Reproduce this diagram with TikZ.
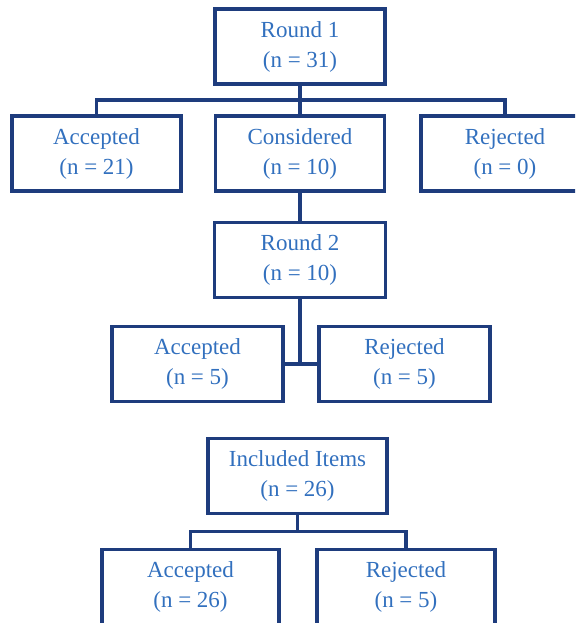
\documentclass[tikz,border=0pt]{standalone}
\usepackage{fontspec}
\setmainfont{Liberation Serif}
\definecolor{bordure}{RGB}{30,60,125}
\definecolor{texte}{RGB}{50,112,190}
\begin{document}
\begin{tikzpicture}[x=0.5pt, y=-0.5pt]
	\tikzset{boite/.style={rectangle, draw=bordure, line width=1.8pt, text=texte, align=center,
			font=\fontsize{11.5}{15}\selectfont, minimum width=85pt, minimum height=37.5pt, inner sep=0pt},
		trait/.style={draw=bordure, line width=1.8pt}};

	\useasboundingbox (0,0) rectangle (575,623);
	\clip (0,0) rectangle (575,623);

	\foreach \nom/\x/\y/\titre/\n/\larg in {r1/300/46.5/Round 1/31/85, acc1/96.5/153.5/Accepted/21/84.5,
			con1/300/153.5/Considered/10/84.5, rej1/505/153.5/Rejected/0/84,
			r2/300/260/Round 2/10/85.5, acc2/197.5/364/Accepted/5/85.5, rej2/404.5/364/Rejected/5/85.5,
			inc/297.5/476/Included Items/26/89.5, acc3/190.5/587/Accepted/26/88.5, rej3/406/587/Rejected/5/89}{
		\node[boite, minimum width=\larg pt] (\nom) at (\x, \y) {\titre\\(n = \n)};
	}

	\coordinate (s1) at (300, 100);
	\coordinate (s2) at (300, 364);
	\coordinate (s3) at (297.5, 531.5);

	\draw[trait] (r1) -- (con1);
	\draw[trait] (acc1.north) |- (s1) -| (rej1.north);
	\draw[trait] (con1) -- (r2);
	\draw[trait] (r2.south) -- (s2);
	\draw[trait] (acc2.east) -- (rej2.west);
	\draw[trait] (inc.south) -- (s3);
	\draw[trait] (acc3.north) |- (s3) -| (rej3.north);

\end{tikzpicture}
\end{document}
